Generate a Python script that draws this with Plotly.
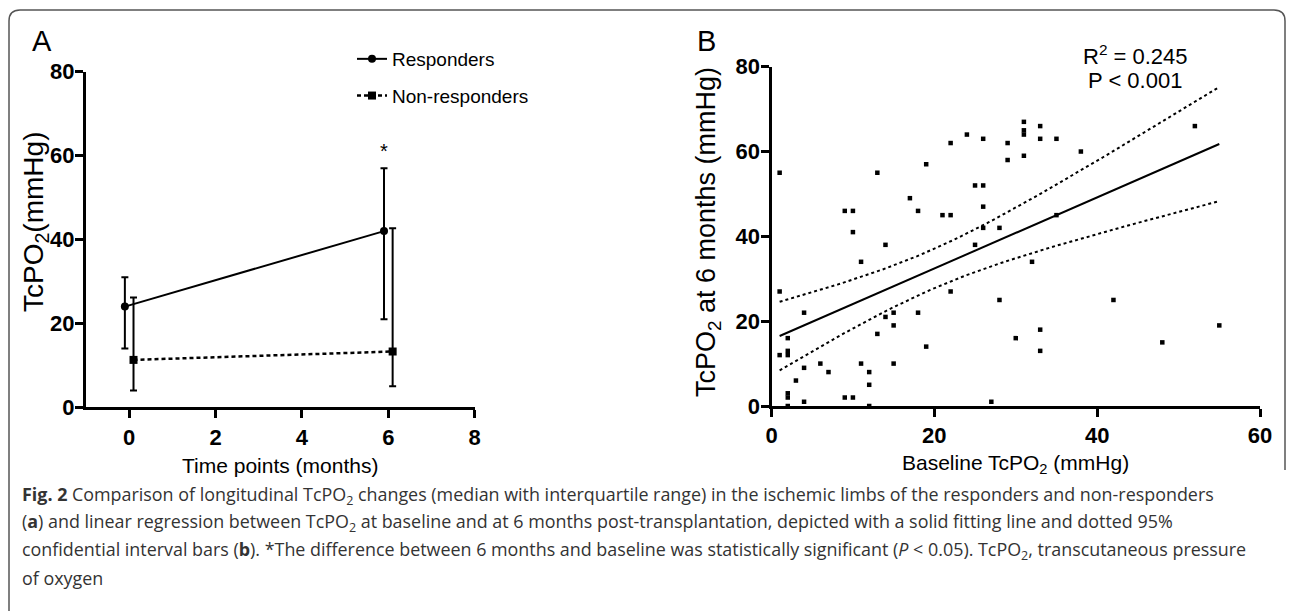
import numpy as np
import plotly.graph_objects as go

# ---------------- Panel A data ----------------
time_resp = [-0.1, 5.9]
median_resp = [24, 42]
q1_resp = [14, 21]
q3_resp = [31, 57]

time_non = [0.1, 6.1]
median_non = [11.3, 13.3]
q1_non = [4, 5]
q3_non = [26.2, 42.7]

a_xticks = [0, 2, 4, 6, 8]
a_yticks = [0, 20, 40, 60, 80]

# ---------------- Panel B data ----------------
baseline = [1, 1, 1, 2, 2, 2, 2, 2, 2, 3, 4, 4, 4, 6, 7, 9, 9, 10, 10, 10, 11, 11,
            12, 12, 12, 13, 13, 14, 14, 15, 15, 15, 17, 18, 18, 19, 19, 21, 22, 22, 22,
            24, 25, 25, 26, 26, 26, 26, 27, 28, 28, 29, 29, 30, 31, 31, 31, 31, 32,
            33, 33, 33, 33, 35, 35, 38, 42, 48, 52, 55]
month6 = [55, 27, 12, 16, 13, 12, 3, 2, 0, 6, 22, 9, 1, 10, 8, 46, 2, 46, 41, 2, 34, 10,
          8, 5, 0, 55, 17, 38, 21, 22, 19, 10, 49, 46, 22, 57, 14, 45, 62, 45, 27,
          64, 52, 38, 63, 52, 47, 42, 1, 42, 25, 62, 58, 16, 67, 65, 64, 59, 34,
          66, 63, 18, 13, 63, 45, 60, 25, 15, 66, 19]
b_xticks = [0, 20, 40, 60]
b_yticks = [0, 20, 40, 60, 80]

W, H = 1292, 611
FONT = "Liberation Sans, Arial"

def px(x):
    return x / W

def py(y):
    return 1 - y / H

fig = go.Figure()

# Panel A traces
fig.add_trace(go.Scatter(
    x=time_resp, y=median_resp, mode="lines+markers", name="Responders",
    legendgroup="r",
    line=dict(color="black", width=2),
    marker=dict(symbol="circle", size=8, color="black"),
    error_y=dict(type="data", symmetric=False,
                 array=[h - m for h, m in zip(q3_resp, median_resp)],
                 arrayminus=[m - l for m, l in zip(median_resp, q1_resp)],
                 color="black", thickness=2, width=3.5),
    xaxis="x", yaxis="y", cliponaxis=False))
fig.add_trace(go.Scatter(
    x=time_non, y=median_non, mode="lines+markers", name="Non-responders",
    legendgroup="n",
    line=dict(color="black", width=2.5, dash="4px,3px"),
    marker=dict(symbol="square", size=8, color="black"),
    error_y=dict(type="data", symmetric=False,
                 array=[h - m for h, m in zip(q3_non, median_non)],
                 arrayminus=[m - l for m, l in zip(median_non, q1_non)],
                 color="black", thickness=2, width=3.5),
    xaxis="x", yaxis="y", cliponaxis=False))

# Panel B scatter + linear fit with 95% confidence band
bx = np.array(baseline, dtype=float)
by = np.array(month6, dtype=float)
n = len(bx)
slope, intercept = np.polyfit(bx, by, 1)
xs = np.linspace(bx.min(), bx.max(), 100)
yhat = intercept + slope * xs
resid = by - (intercept + slope * bx)
s = np.sqrt(np.sum(resid ** 2) / (n - 2))
sxx = np.sum((bx - bx.mean()) ** 2)
tval = 1.996
half = tval * s * np.sqrt(1 / n + (xs - bx.mean()) ** 2 / sxx)

fig.add_trace(go.Scatter(
    x=baseline, y=month6, mode="markers", showlegend=False,
    marker=dict(symbol="square", size=4.5, color="black"),
    xaxis="x2", yaxis="y2", cliponaxis=False))
fig.add_trace(go.Scatter(
    x=xs, y=yhat, mode="lines", showlegend=False,
    line=dict(color="black", width=2), xaxis="x2", yaxis="y2"))
for band in (yhat + half, yhat - half):
    fig.add_trace(go.Scatter(
        x=xs, y=band, mode="lines", showlegend=False,
        line=dict(color="black", width=2, dash="dot"), xaxis="x2", yaxis="y2"))

axis_common = dict(showline=True, linecolor="black", linewidth=3,
                   ticks="outside", ticklen=8, tickwidth=3, tickcolor="black",
                   showgrid=False, zeroline=False, automargin=False,
                   tickfont=dict(family=FONT, size=22, color="black", weight="bold"))

fig.update_layout(
    width=W, height=H,
    margin=dict(l=0, r=0, t=0, b=0, pad=0, autoexpand=False),
    paper_bgcolor="white", plot_bgcolor="white",
    showlegend=True,
    legend=dict(x=px(352), y=py(40), xanchor="left", yanchor="top",
                font=dict(family=FONT, size=19, color="black"),
                bgcolor="rgba(0,0,0,0)", itemwidth=30, tracegroupgap=9),
    xaxis=dict(domain=[px(86), px(474.7)], range=[-1, 8], tickvals=a_xticks,
               anchor="y", ticklabelstandoff=0, **axis_common),
    yaxis=dict(domain=[py(407.3), py(71.7)], range=[0, 80], tickvals=a_yticks,
               anchor="x", ticklabelstandoff=-4, **axis_common),
    xaxis2=dict(domain=[px(771.5), px(1260)], range=[0, 60], tickvals=b_xticks,
                anchor="y2", ticklabelstandoff=0, **axis_common),
    yaxis2=dict(domain=[py(406), py(66.7)], range=[0, 80], tickvals=b_yticks,
                anchor="x2", ticklabelstandoff=-4, **axis_common),
)

def label(text, x, y, size, angle=0, color="black", family=FONT, ref="paper"):
    if ref == "paper":
        x, y = px(x), py(y)
        xr, yr = "paper", "paper"
    else:
        xr, yr = "x", "y"
    return dict(text=text, x=x, y=y, xref=xr, yref=yr, xanchor="center", yanchor="middle",
                showarrow=False, textangle=angle, font=dict(family=family, size=size, color=color))

ann = []
ann.append(label("A", 42, 41, 29))
ann.append(label("B", 706, 41, 29))
ann.append(label("TcPO<sub>2</sub>(mmHg)", 35, 222, 28, angle=-90))
ann.append(label("Time points (months)", 280, 465, 21))
ann.append(label("TcPO<sub>2</sub> at 6 months (mmHg)", 708, 232, 27, angle=-90))
ann.append(label("Baseline TcPO<sub>2</sub> (mmHg)", 1015, 464, 21))
ann.append(label("*", 5.9, 61, 20, ref="data"))
ann.append(label("R<sup>2</sup> = 0.245", 1135, 55, 22))
ann.append(label("P < 0.001", 1135, 80, 22))

cap = [
    "<b>Fig. 2</b> Comparison of longitudinal TcPO<sub>2</sub> changes (median with interquartile range) in the ischemic limbs of the responders and non-responders",
    "(<b>a</b>) and linear regression between TcPO<sub>2</sub> at baseline and at 6 months post-transplantation, depicted with a solid fitting line and dotted 95%",
    "confidential interval bars (<b>b</b>). *The difference between 6 months and baseline was statistically significant (<i>P</i> < 0.05). TcPO<sub>2</sub>, transcutaneous pressure",
    "of oxygen",
]
for i, line in enumerate(cap):
    ann.append(dict(text=line, x=px(20), y=py(495 + 27.7 * i), xref="paper", yref="paper",
                    xanchor="left", yanchor="middle", showarrow=False,
                    font=dict(family="Open Sans", size=17.9, color="#333333")))
fig.update_layout(annotations=ann)

# outer rounded frame
fig.add_shape(type="path", xref="paper", yref="paper",
              path=f"M {px(9)},{py(611)} L {px(9)},{py(21)} Q {px(9)},{py(10)} {px(20)},{py(10)} "
                   f"L {px(1274)},{py(10)} Q {px(1285)},{py(10)} {px(1285)},{py(21)} L {px(1285)},{py(470)}",
              line=dict(color="#555555", width=1.5))

fig.write_html("out.html", config={"displayModeBar": False},
               post_script="document.body.style.margin='0';document.body.style.padding='0';")
